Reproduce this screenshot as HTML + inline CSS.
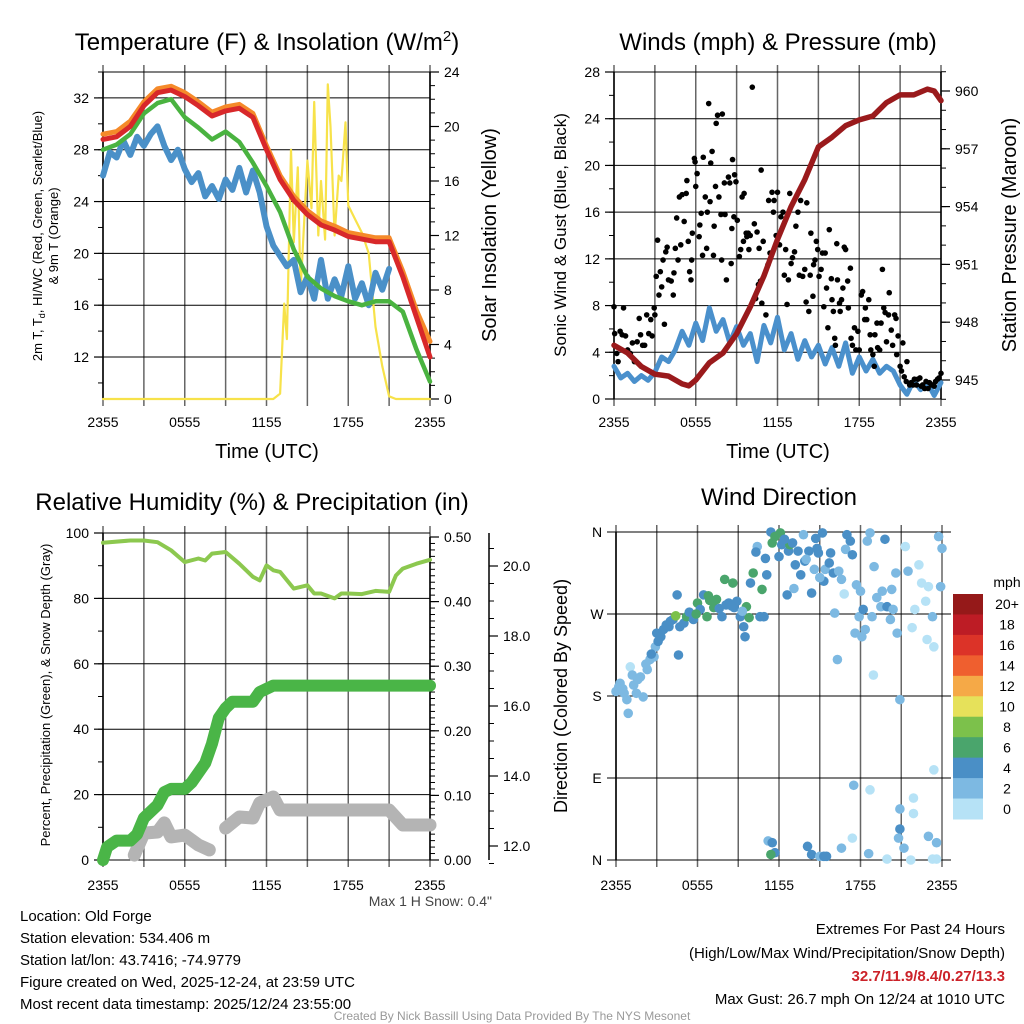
<!DOCTYPE html>
<html><head><meta charset="utf-8"><style>
body{margin:0;background:#fff}
svg{display:block;font-family:"Liberation Sans",sans-serif}
</style></head><body>
<svg id="svg" width="1024" height="1024" viewBox="0 0 1024 1024">
<rect width="1024" height="1024" fill="#fff"/>
<g id="layer"></g>
<g font-size="24" text-anchor="middle" fill="#000">
<text x="267" y="50">Temperature (F) &amp; Insolation (W/m<tspan dy="-9" font-size="15">2</tspan><tspan dy="9">)</tspan></text>
<text x="778" y="50">Winds (mph) &amp; Pressure (mb)</text>
<text x="252" y="510">Relative Humidity (%) &amp; Precipitation (in)</text>
<text x="779" y="505">Wind Direction</text>
</g>
<g font-size="20" text-anchor="middle">
<text x="267" y="458">Time (UTC)</text>
<text x="778" y="458">Time (UTC)</text>
<text transform="translate(496,235) rotate(-90)">Solar Insolation (Yellow)</text>
<text transform="translate(1016,235) rotate(-90)">Station Pressure (Maroon)</text>
</g>
<g font-size="13" text-anchor="middle">
<text transform="translate(42,236) rotate(-90)">2m T, T<tspan font-size="9" dy="3">d</tspan><tspan dy="-3">, HI/WC (Red, Green, Scarlet/Blue)</tspan></text>
<text transform="translate(58,236) rotate(-90)">&amp; 9m T (Orange)</text>
<text transform="translate(50,695) rotate(-90)">Percent, Precipitation (Green), &amp; Snow Depth (Gray)</text>
</g>
<text transform="translate(566,235) rotate(-90)" font-size="17" text-anchor="middle">Sonic Wind &amp; Gust (Blue, Black)</text>
<text transform="translate(567,696) rotate(-90)" font-size="18" text-anchor="middle">Direction (Colored By Speed)</text>
<text x="492" y="906" font-size="14" text-anchor="end" fill="#444">Max 1 H Snow: 0.4"</text>
<g font-size="15" fill="#000">
<text x="20" y="921">Location: Old Forge</text>
<text x="20" y="943">Station elevation: 534.406 m</text>
<text x="20" y="965">Station lat/lon: 43.7416; -74.9779</text>
<text x="20" y="987">Figure created on Wed, 2025-12-24, at 23:59 UTC</text>
<text x="20" y="1009">Most recent data timestamp: 2025/12/24 23:55:00</text>
</g>
<g font-size="15" text-anchor="end">
<text x="1005" y="934">Extremes For Past 24 Hours</text>
<text x="1005" y="958">(High/Low/Max Wind/Precipitation/Snow Depth)</text>
<text x="1005" y="981" fill="#cc2229" font-weight="bold">32.7/11.9/8.4/0.27/13.3</text>
<text x="1005" y="1004">Max Gust: 26.7 mph On 12/24 at 1010 UTC</text>
</g>
<text x="512" y="1020" font-size="12" text-anchor="middle" fill="#999">Created By Nick Bassill Using Data Provided By The NYS Mesonet</text>
</svg>
<script>
// ---- data ----
const timeTickLabels = ["2355","0555","1155","1755","2355"];
const hourly = [0,1,2,3,4,5,6,7,8,9,10,11,12,13,14,15,16,17,18,19,20,21,22,23,24];
const tempRed = [28.8,29.0,29.8,31.4,32.4,32.6,32.1,31.4,30.6,31.0,31.2,30.5,28.0,25.7,24.1,23.0,22.2,21.8,21.3,21.1,20.9,20.9,18.2,15.1,12.0];
const tempOrange = [29.2,29.4,30.2,31.7,32.7,32.9,32.4,31.7,30.9,31.3,31.5,30.8,28.3,26.0,24.4,23.3,22.5,22.1,21.6,21.4,21.2,21.2,18.6,15.6,13.2];
const tempGreen = [28.0,28.4,29.2,30.8,31.6,31.9,30.5,29.7,28.8,29.4,28.6,27.0,25.2,23.2,20.3,18.2,17.3,16.7,16.3,16.0,16.3,16.3,15.5,12.6,10.1];
const halfHours = [0,0.5,1,1.5,2,2.5,3,3.5,4,4.5,5,5.5,6,6.5,7,7.5,8,8.5,9,9.5,10,10.5,11,11.5,12,12.5,13,13.5,14,14.5,15,15.5,16,16.5,17,17.5,18,18.5,19,19.5,20,20.5,21,21.5,22,22.5,23,23.5,24];
const tempBlue = [26.0,27.8,27.4,28.7,27.6,29.0,28.3,29.2,29.8,28.3,27.2,28.0,26.5,25.5,26.2,24.4,25.2,24.2,25.7,24.9,26.6,24.7,26.4,24.7,22.1,20.6,19.8,19.0,19.5,17.0,18.2,16.5,19.5,16.5,18.0,16.7,19.0,16.5,17.7,16.0,18.5,17.2,18.8];
const solarTimes = [0,12.5,13,13.3,13.5,13.8,14,14.3,14.5,15,15.3,15.5,15.8,16,16.3,16.5,16.7,17,17.3,17.5,17.8,18,18.5,19,19.5,20,20.5,21,21.5,24];
const solarValues = [0,0,0.4,7,4.4,18.3,11.5,17,8,17.5,14,21.8,12,16,11.7,23.1,20,12,16.4,16,20.3,14.2,13.2,12.2,10.7,5.3,2.4,0.2,0,0];
const windBlue = [2.8,1.8,2.2,1.5,2.0,1.6,2.3,3.6,3.2,4.2,5.8,4.6,6.5,5.0,7.8,5.8,6.8,4.8,6.2,4.6,5.6,3.2,6.3,4.8,7.0,4.2,5.6,3.4,5.0,3.6,4.6,3.0,4.4,2.8,4.8,2.2,3.6,2.4,3.4,2.2,2.8,2.4,1.2,0.4,1.6,0.8,1.4,0.3,1.4];
const gustTimes = [0,0.05,0.2,0.3,0.45,0.6,0.7,0.85,1.0,1.2,1.35,1.5,1.7,1.85,1.95,2.1,2.25,2.4,2.55,2.7,2.8,2.95,3.0,3.1,3.2,3.3,3.4,3.5,3.6,3.7,3.8,3.9,4.0,4.2,4.35,4.4,4.5,4.6,4.7,4.8,4.9,5.0,5.15,5.3,5.35,5.45,5.55,5.65,5.7,5.75,5.9,5.95,6.0,6.1,6.25,6.3,6.4,6.5,6.55,6.7,6.8,6.85,6.95,7.05,7.1,7.2,7.3,7.35,7.45,7.5,7.6,7.7,7.85,7.9,7.95,8.1,8.15,8.25,8.4,8.5,8.6,8.65,8.7,8.8,8.85,8.95,9.05,9.2,9.3,9.4,9.5,9.55,9.7,9.75,9.85,9.9,10.0,10.15,10.3,10.4,10.5,10.6,10.65,10.75,10.8,10.85,10.95,11.15,11.3,11.35,11.45,11.6,11.7,11.75,11.9,12.0,12.15,12.25,12.4,12.5,12.6,12.7,12.8,12.9,13.0,13.1,13.25,13.35,13.5,13.6,13.7,13.85,14.0,14.1,14.15,14.3,14.4,14.45,14.6,14.65,14.75,14.85,14.95,15.05,15.2,15.3,15.4,15.5,15.6,15.7,15.8,15.95,16.0,16.1,16.2,16.25,16.35,16.4,16.55,16.6,16.7,16.8,16.9,17.0,17.15,17.2,17.35,17.4,17.5,17.65,17.75,17.9,18.0,18.15,18.25,18.4,18.45,18.55,18.7,18.8,18.85,19.0,19.1,19.15,19.3,19.35,19.5,19.6,19.7,19.8,19.9,20.0,20.15,20.2,20.35,20.45,20.6,20.7,20.75,20.85,21.0,21.1,21.2,21.3,21.45,21.5,21.7,21.8,21.95,22.05,22.2,22.3,22.45,22.55,22.65,22.8,22.9,23.05,23.15,23.3,23.4,23.5,23.6,23.75,23.85,24.0];
const gustValues = [7.9,5.6,3.9,3.2,5.8,5.5,7.8,5.4,4.2,3.9,4.8,3.2,4.9,6.9,5.5,4.6,4.6,7.2,5.6,6.8,5.4,7.8,7.2,10.5,13.6,8.9,10.9,9.6,11.9,6.4,12.6,13.0,10.2,10.1,8.9,10.8,12.9,15.5,11.9,17.3,13.2,17.5,15.2,17.6,18.7,13.5,10.9,10.2,11.9,14.2,20.6,20.3,18.2,19.3,13.9,14.9,15.9,12.3,20.7,17.3,12.9,16.0,25.3,16.9,20.2,21.2,12.3,14.8,18.2,23.6,24.3,17.3,15.8,11.9,24.4,18.5,15.8,10.2,19.0,18.5,11.6,14.6,20.5,15.6,19.2,18.6,15.3,12.2,12.8,17.3,13.5,17.6,14.2,13.9,14.2,12.8,14.0,26.7,15.0,8.6,14.3,9.8,12.9,10.1,19.6,8.2,13.5,7.2,11.5,17.0,12.5,17.7,16.0,17.0,14.0,17.7,13.2,15.6,16.0,10.6,12.8,8.1,10.2,17.6,11.6,12.1,12.6,14.8,16.0,10.6,17.0,10.5,11.1,8.3,16.8,7.5,10.6,14.2,8.8,11.5,11.9,13.5,12.8,10.5,11.1,12.5,7.9,12.5,9.5,6.1,14.5,10.3,8.5,7.5,5.2,4.6,13.3,10.2,8.2,7.5,8.5,9.5,13.0,12.8,10.1,7.8,11.2,5.2,4.6,6.1,4.2,5.8,4.2,8.9,9.2,6.8,7.8,6.8,8.5,5.5,4.2,3.8,2.8,5.5,6.5,4.4,4.2,6.5,11.1,7.8,7.4,4.9,7.2,9.1,5.9,4.6,7.2,6.9,3.8,5.4,2.8,2.4,4.8,1.9,1.5,3.2,1.2,1.4,1.2,1.7,1.2,1.7,1.8,1.1,1.2,0.9,1.5,0.9,1.4,1.2,1.2,1.1,1.5,1.7,1.8,2.2];
const pressTimes = [0,1,2,3,4,5,5.5,6,7,8,9,10,11,12,13,14,15,16,17,18,19,20,21,22,23,23.5,24];
const pressValues = [946.8,946.4,945.7,945.3,945.2,944.8,944.7,945.0,945.9,946.4,947.4,948.8,950.4,952.3,954.0,955.4,957.1,957.6,958.2,958.5,958.7,959.4,959.8,959.8,960.1,960.0,959.5];
const rhTimes = [0,2,3,4,5,6,7,7.5,8,9,10,11,11.5,12,12.5,13,14,15,15.5,16,17,17.5,18,19,20,21,21.5,22,23,24];
const rhValues = [97,97.7,97.7,97.2,94.7,91.1,92.2,91.6,93.7,94.2,90.6,86.6,85.5,90.1,88.6,88.1,83.0,84.0,81.5,81.5,80.0,81.5,81.5,81.3,82.3,82.0,87.0,89.1,90.6,91.8];
const precipTimes = [0,0.3,1,2,2.5,3,4,4.5,5,6,6.5,7,7.5,8,8.5,9,9.5,10,11,11.5,12,12.5,13,24];
const precipValues = [0,0.02,0.03,0.03,0.04,0.065,0.085,0.105,0.11,0.11,0.12,0.135,0.15,0.18,0.22,0.235,0.245,0.245,0.245,0.26,0.265,0.27,0.27,0.27];
const snowTimes = [2.3,3,4,4.5,5,6,7,7.8,8.5,9,10,11,11.5,12.5,13,21,22,24];
const snowValues = [11.74,12.37,12.4,12.66,12.26,12.31,12.03,11.89,null,12.51,12.83,12.8,13.23,13.4,13.03,13.03,12.6,12.6];
const dirTimes = [0,0.3,0.6,0.8,0.9,1.05,1.2,1.5,1.8,2.0,2.3,2.5,2.8,2.9,3.0,3.3,3.5,3.9,4.2,4.5,4.6,4.7,5.0,5.2,5.7,6.0,6.2,6.45,6.7,6.8,7.2,7.4,7.8,8.0,8.3,8.6,8.7,8.9,9.15,9.4,9.5,9.6,9.8,9.9,10.1,10.4,10.6,10.75,10.9,11.0,11.1,11.4,11.5,11.7,12.0,12.1,12.2,12.6,12.7,12.8,13.1,13.2,13.4,13.6,13.8,13.9,14.2,14.4,14.6,14.7,14.8,14.9,15.2,15.3,15.4,15.7,15.8,16.0,16.1,16.3,16.4,16.6,16.9,17.0,17.25,17.4,17.6,17.7,17.9,18.0,18.1,18.2,18.35,18.5,18.7,18.85,18.95,19.2,19.5,19.6,19.8,19.95,20.2,20.3,20.4,20.6,20.7,20.9,21.3,21.5,21.8,22.0,22.3,22.5,22.8,22.9,23.0,23.3,23.4,23.75,23.9,24.0,11.2,11.5,11.7,11.4,14.1,14.4,15.0,15.3,15.5,16.6,17.4,17.5,18.6,18.7,19.95,20.9,20.9,20.8,21.2,21.7,21.9,21.9,23.0,23.4,23.6,23.3,23.6,0.2,0.5,1.3,1.6,2.2,2.6,3.1,3.7,4.0,4.4,5.4,5.9,6.9,7.6,8.1,8.5,9.3,10.3,12.4,13.0,14.0,15.0,16.8,19.0];
const dirValues = [185,194,183,176,161,212,203,183,201,179,209,220,223,234,249,245,253,256,264,291,225,256,260,267,264,282,275,291,267,290,277,286,267,308,282,304,277,284,267,256,245,278,266,304,315,344,267,297,267,331,313,360,348,355,333,359,346,291,339,346,298,324,339,313,357,328,339,293,319,353,342,337,359,306,319,326,337,315,271,220,317,308,341,357,350,335,249,302,267,295,245,275,253,350,359,267,203,288,278,295,352,278,264,297,275,315,249,176,344,317,255,275,324,304,284,242,300,267,234,355,300,342,21,19,8,6,15,6,4,4,4,13,24,82,7,77,1,56,34,24,13,0,68,51,26,99,19,1,1,190,188,192,198,215,226,240,258,262,268,272,270,285,276,280,279,273,338,352,348,330,310,292,322];
const dirSpeeds = [3,3,3,3,3,1,3,3,3,3,3,3,3,3,5,5,5,5,5,5,5,5,5,7,5,7,5,5,7,7,7,7,5,7,5,7,5,5,5,5,5,7,7,5,7,3,5,7,5,5,5,5,7,7,5,7,5,5,5,7,3,5,5,5,3,5,5,5,3,5,5,5,5,5,3,5,5,5,3,3,3,3,3,5,5,5,3,3,3,3,3,5,3,3,3,3,1,3,3,3,5,5,3,3,3,3,3,3,1,3,1,1,1,1,1,1,1,3,1,3,3,3,3,5,5,7,5,5,3,5,5,3,1,3,3,1,1,3,5,3,3,1,1,1,3,1,3,1,1,3,3,3,3,3,5,5,5,5,9,5,7,7,5,5,5,3,5,5,5,3,3,1,3];
const speedBins = ["0","2","4","6","8","10","12","14","16","18","20+"];
const speedColors = ["#b6e2f6","#7db9e2","#4a8fc6","#4aa56c","#7cc14b","#e6e15a","#f5a947","#ef5f2f","#dc3328","#bd1c25","#951919"];

// ---- helpers ----
const NS = "http://www.w3.org/2000/svg";
const layer = document.getElementById("layer");
function mk(tag, attrs, parent){ const e=document.createElementNS(NS,tag); for(const k in attrs) e.setAttribute(k,attrs[k]); (parent||layer).appendChild(e); return e; }
function lin(d0,d1,r0,r1){ return v => r0 + (v-d0)/(d1-d0)*(r1-r0); }
const X0=103, X1=430, XR0=616, XR1=942;
const xA = lin(0,24,X0,X1);
const xD = lin(0,24,XR0,XR1);
function pathFrom(ts, vs, xs, ys){ let d="", pen=false; for(let i=0;i<ts.length;i++){ if(vs[i]===null||vs[i]===undefined){pen=false;continue;} d+=(pen?"L":"M")+xs(ts[i]).toFixed(1)+","+ys(vs[i]).toFixed(1); pen=true;} return d; }

function frame(x0,x1,y0,y1,xs,name,labY){
  const g = mk("g",{});
  
  
  for(let h=0;h<=24;h+=3){ const x=xs(h);
    const l=mk("line",{x1:x,x2:x,y1:y0-7,y2:y1+7,stroke:"#666","stroke-width":1.5},g);
    
     }
  timeTickLabels.forEach((t,i)=>{ const tx=mk("text",{x:xs(i*6),y:labY,"font-size":14,"text-anchor":"middle"},g); tx.textContent=t;
    
     });
  return g;
}
function yAxis(g,x,y0,y1,ys,majors,minors,side,labels,hgrid,name,fmt){
  mk("line",{x1:x,x2:x,y1:y0,y2:y1,stroke:"#000","stroke-width":1.5},g);
  const dir = side==="left"?-1:1;
  minors.forEach(v=>{ const y=ys(v); mk("line",{x1:x,x2:x+dir*5,y1:y,y2:y,stroke:"#000"},g); });
  majors.forEach((v,i)=>{ const y=ys(v);
    if(hgrid) mk("line",{x1:hgrid[0],x2:hgrid[1],y1:y,y2:y,stroke:"#000","stroke-width":1},g);
    mk("line",{x1:x,x2:x+dir*9,y1:y,y2:y,stroke:"#000","stroke-width":1.2},g);
    if(labels){ const t=mk("text",{x:x+dir*14,y:y+5,"font-size":14,"text-anchor":side==="left"?"end":"start"},g); t.textContent=fmt?fmt(v):v;
      
       }
  });
}
function range(a,b,s){ const r=[]; for(let v=a;v<=b+1e-9;v+=s) r.push(+v.toFixed(3)); return r; }
function line(ts,vs,xs,ys,color,w,name){ const p=mk("path",{d:pathFrom(ts,vs,xs,ys),fill:"none",stroke:color,"stroke-width":w,"stroke-linejoin":"round","stroke-linecap":"round"});
  
   return p; }

// ---- Panel A: temperature ----
const yT = lin(8.76,34.0,399,72);
const yS = lin(0,24,399,72);
const gA = frame(X0,X1,72,399,xA,"temperature",427);
mk("line",{x1:X0,x2:X1,y1:72,y2:72,stroke:"#000"},gA);
yAxis(gA,X0,72,399,yT,[12,16,20,24,28,32],range(10,34,2),"left",true,[X0,X1],"temperature-y");
yAxis(gA,X1,72,399,yS,[0,4,8,12,16,20,24],range(0,24,1),"right",true,null,"insolation-y");
line(solarTimes,solarValues,xA,yS,"#f7e24a",2.2,"solar-insolation-line");
line(halfHours.slice(0,tempBlue.length),tempBlue,xA,yT,"#4a90c8",6,"windchill-blue-line");
line(hourly,tempGreen,xA,yT,"#4ab340",4.5,"dewpoint-green-line");
line(hourly,tempOrange,xA,yT,"#f58a2a",5,"temp-9m-orange-line");
line(hourly,tempRed,xA,yT,"#d8282a",5,"temp-2m-red-line");

// ---- Panel B: winds ----
const xB = lin(0,24,X0+511,X1+511);
const yW = lin(0,28,399,72);
const yP = lin(945,960,380,91);
const gB = frame(X0+511,X1+511,72,399,xB,"winds",427);
mk("line",{x1:X0+511,x2:X1+511,y1:72,y2:72,stroke:"#000"},gB);
yAxis(gB,X0+511,72,399,yW,[0,4,8,12,16,20,24,28],range(0,28,2),"left",true,[X0+511,X1+511],"wind-y");
yAxis(gB,X1+511,72,399,yP,[945,948,951,954,957,960],range(944,961,1),"right",true,null,"pressure-y");
line(halfHours,windBlue,xB,yW,"#4a90cc",5,"sonic-wind-line");
gustTimes.forEach((t,i)=>{ if(gustValues[i]===undefined) return; const c=mk("circle",{cx:xB(t),cy:yW(gustValues[i]),r:2.8,fill:"#000"});
  
   });
line(pressTimes,pressValues,xB,yP,"#9a1a1c",5.5,"station-pressure-line");

// ---- Panel C: humidity ----
const yH = lin(0,100,860,533);
const yPr = lin(0,0.5,860,537);
const ySn = lin(12,20,846,566);
const gC = frame(X0,X1,533,860,xA,"humidity",890);
mk("line",{x1:X0,x2:X1,y1:533,y2:533,stroke:"#000"},gC);
yAxis(gC,X0,533,860,yH,[0,20,40,60,80,100],range(0,100,10),"left",true,[X0,X1],"humidity-y");
yAxis(gC,X1,537,860,yPr,[0,0.1,0.2,0.3,0.4,0.5],range(0,0.5,0.01),"right",true,null,"precip-y",v=>v.toFixed(2));
yAxis(gC,489,533,860,ySn,[12,14,16,18,20],range(11.5,20.5,0.5),"right",true,null,"snow-y",v=>v.toFixed(1));
line(snowTimes,snowValues,xA,ySn,"#b4b4b4",13,"snow-depth-line");
line(precipTimes,precipValues,xA,yPr,"#4ab547",12,"precipitation-line");
line(rhTimes,rhValues,xA,yH,"#8cc84f",4,"relative-humidity-line");

// ---- Panel D: wind direction ----
const yD = lin(0,360,860,532);
const gD = frame(XR0,XR1,532,860,xD,"direction",890);
const dirLabels=["N","E","S","W","N"];
[0,90,180,270,360].forEach((v,i)=>{ const y=yD(v);
  mk("line",{x1:XR0-9,x2:XR1+9,y1:y,y2:y,stroke:"#000"},gD);
  const t=mk("text",{x:597,y:y+5,"font-size":14,"text-anchor":"middle"},gD); t.textContent=dirLabels[i];
  
   });
mk("line",{x1:XR0,x2:XR0,y1:532,y2:860,stroke:"#000","stroke-width":1.5},gD);
function speedColor(s){ let k=Math.min(10,Math.max(0,Math.floor(s/2))); return speedColors[k]; }
dirTimes.forEach((t,i)=>{ if(dirValues[i]===undefined) return; const sp = dirSpeeds[i]===undefined?3:dirSpeeds[i];
  const c=mk("circle",{cx:xD(t),cy:yD(dirValues[i]),r:4.8,fill:speedColor(sp)});
  
   });

// colorbar
const cb = mk("g",{});


const cbTop=594, cbBot=819, cbH=(cbBot-cbTop)/speedColors.length;
speedColors.slice().reverse().forEach((c,i)=>{ mk("rect",{x:953,y:cbTop+i*cbH,width:30,height:cbH+0.5,fill:c},cb); });
speedBins.slice().reverse().forEach((s,i)=>{ const t=mk("text",{x:1007,y:cbTop+i*cbH+cbH/2+5,"font-size":14,"text-anchor":"middle"},cb); t.textContent=s;
  
   });
const mph=mk("text",{x:1007,y:587,"font-size":14,"text-anchor":"middle"},cb); mph.textContent="mph";


</script>
</body></html>
